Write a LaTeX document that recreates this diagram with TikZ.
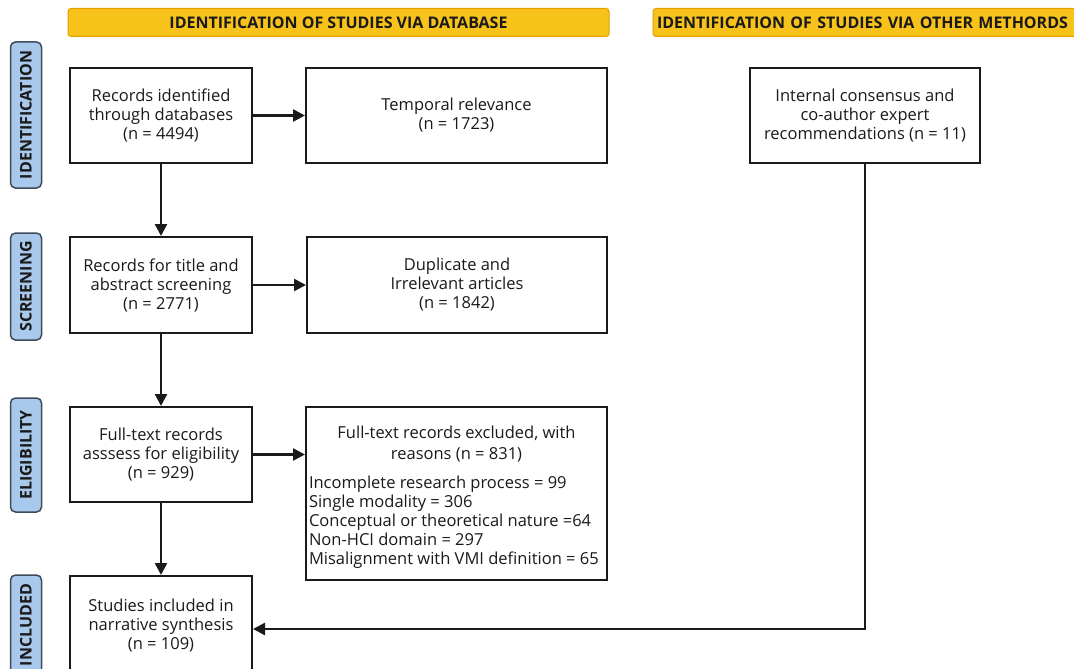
\documentclass[tikz,border=0pt]{standalone}
\usepackage{fontspec}
\setmainfont{Open Sans}
\usetikzlibrary{arrows.meta}
\definecolor{hdrfill}{HTML}{F7C21A}
\definecolor{hdrline}{HTML}{E3A000}
\definecolor{tabfill}{HTML}{A9C9EC}
\definecolor{tabline}{HTML}{3E4B5A}
\definecolor{txt}{HTML}{1A1A1A}
\tikzset{
  hdr/.style={draw=hdrline, fill=hdrfill, rounded corners=3pt, line width=1pt,
    minimum height=28pt, inner sep=0pt, font=\fontsize{16}{18}\selectfont\bfseries, text=txt},
  tab/.style={draw=tabline, fill=tabfill, rounded corners=5pt, line width=1.5pt,
    minimum height=31pt, inner sep=0pt, rotate=90, font=\fontsize{16}{18}\selectfont\bfseries, text=txt},
  box/.style={draw=txt, line width=2pt, fill=white, align=center, inner sep=2pt,
    font=\fontsize{16.5}{19}\selectfont, text=txt},
  conn/.style={draw=txt, line width=2.5pt, -{Triangle[length=12pt,width=12pt]}}
}
\begin{document}
\begin{tikzpicture}[x=1pt,y=-1pt]
\clip (0,0) rectangle (1074,669);
\fill[white] (0,0) rectangle (1074,669);
% headers
\node[hdr, minimum width=541pt] (h1) at (338.5,22.5) {IDENTIFICATION OF STUDIES VIA DATABASE};
\node[hdr, text width=420pt, inner xsep=4pt, align=left] (h2) at (867,22.5) {IDENTIFICATION OF STUDIES VIA OTHER METHORDS};
% side tabs
\node[tab, minimum width=146pt] (t1) at (26,115) {IDENTIFICATION};
\node[tab, minimum width=107pt] (t2) at (26,286.5) {SCREENING};
\node[tab, minimum width=114pt] (t3) at (26,455) {ELIGIBILITY};
\node[tab, minimum width=100pt] (t4) at (26,625) {INCLUDED};
% boxes
\node[box, minimum width=182pt, minimum height=95pt] (A) at (161,115.5) {Records identified\\through databases\\(n = 4494)};
\node[box, minimum width=301pt, minimum height=95pt] (B) at (456.5,115.5) {Temporal relevance\\(n = 1723)};
\node[box, minimum width=230pt, minimum height=95pt] (C) at (865,115.5) {Internal consensus and\\co-author expert\\recommendations (n = 11)};
\node[box, minimum width=182pt, minimum height=96pt] (D) at (161,285) {Records for title and\\abstract screening\\(n = 2771)};
\node[box, minimum width=300pt, minimum height=96pt] (E) at (457,285) {Duplicate and\\Irrelevant articles\\(n = 1842)};
\node[box, minimum width=182pt, minimum height=95pt] (F) at (161,454.5) {Full-text records\\asssess for eligibility\\(n = 929)};
\node[box, minimum width=301pt, minimum height=173pt, inner sep=3pt] (G) at (456.5,493.5) {\parbox{295pt}{\centering\fontsize{16.5}{21}\selectfont Full-text records excluded, with\\reasons (n = 831)\par\fontsize{16.5}{19}\selectfont\vspace{10pt}\raggedright Incomplete research process = 99\\Single modality = 306\\Conceptual or theoretical nature =64\\Non-HCI domain = 297\\Misalignment with VMI definition = 65\par\vspace{-7pt}}};
\node[box, minimum width=182pt, minimum height=100pt] (H) at (161,626) {Studies included in\\narrative synthesis\\(n = 109)};
% connectors
\draw[conn] (A.east) -- (B.west);
\draw[conn] (D.east) -- (E.west);
\draw[conn] (F.east) -- (G.west |- F.east);
\draw[conn] (A.south) -- (D.north);
\draw[conn] (D.south) -- (F.north);
\draw[conn] (F.south) -- (H.north);
\coordinate (corner) at (C.south |- 0,629);
\draw[conn] (C.south) -- (corner) -- (H.east |- corner);
\end{tikzpicture}
\end{document}
